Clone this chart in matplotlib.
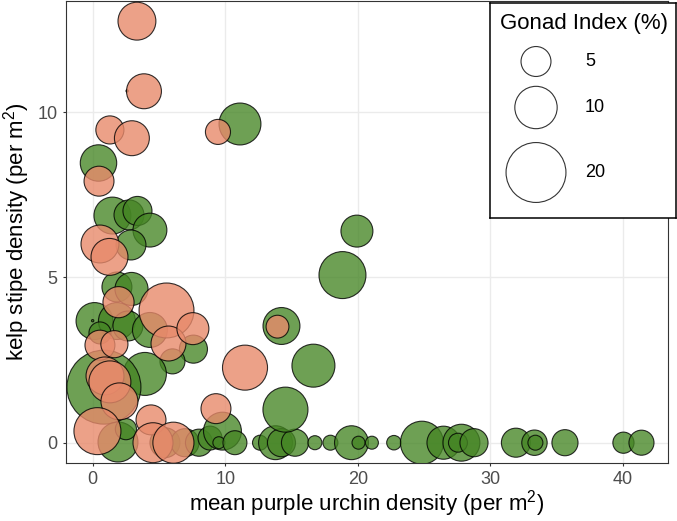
import numpy as np
import matplotlib.pyplot as plt

plt.rcParams['font.family'] = ['Liberation Sans', 'DejaVu Sans']
plt.rcParams['mathtext.fontset'] = 'custom'
plt.rcParams['mathtext.rm'] = 'Liberation Sans'

# green sites (urchin density, kelp density, gonad index)
green_urchin = [11.11, 0.44, 1.49, 2.74, 3.38, 4.32, 2.89, 1.83, 2.93, 0.14, 1.83, 2.66,
                0.55, 4.32, 7.60, 6.02, 3.94, 0.85, 1.91, 2.51, 5.45, 6.96, 8.02, 8.85,
                9.79, 9.52, 10.73, 12.62, 13.79, 14.24, 15.26, 16.76, 17.93, 19.52, 20.05,
                21.06, 22.72, 24.83, 26.46, 27.81, 27.55, 28.76, 31.92, 33.32, 33.39, 35.62,
                40.03, 41.39, 14.54, 16.65, 14.24, 19.93, 18.84, 0.0, 2.6]
green_kelp = [9.64, 8.46, 6.87, 6.89, 7.01, 6.43, 5.98, 4.71, 4.65, 3.68, 3.68, 3.53,
              3.32, 3.41, 2.83, 2.46, 2.08, 1.68, 0.02, 0.41, 0.0, 0.0, 0.0, 0.14,
              0.35, 0.0, 0.0, 0.0, 0.0, 0.0, 0.0, 0.0, 0.0, 0.0, 0.0,
              0.0, 0.0, 0.0, 0.0, 0.0, 0.0, 0.0, 0.0, 0.0, 0.0, 0.0,
              0.0, 0.0, 1.0, 2.33, 3.53, 6.40, 5.07, 3.69, 10.64]
green_gonad = [9.8, 7.4, 7.6, 5.0, 4.7, 6.4, 5.0, 5.0, 6.1, 7.6, 7.6, 5.0,
               2.7, 6.8, 4.4, 3.5, 10.3, 30.5, 8.9, 2.5, 5.0, 4.4, 4.1, 3.2,
               8.0, 0.8, 3.2, 1.25, 6.4, 4.4, 4.1, 1.1, 1.25, 6.4, 0.94,
               0.94, 1.17, 10.3, 6.1, 7.6, 2.0, 4.4, 4.7, 3.6, 1.25, 3.8,
               2.5, 3.5, 11.3, 10.3, 7.6, 5.7, 12.3, 0.03, 0.03]

# salmon sites
salmon_urchin = [3.34, 3.87, 1.30, 2.96, 9.45, 0.48, 0.55, 1.27, 1.95, 5.57, 0.55, 1.64,
                 5.72, 7.56, 0.93, 1.30, 2.02, 0.36, 4.40, 4.55, 6.09, 9.30, 11.49, 13.94]
salmon_kelp = [12.75, 10.63, 9.46, 9.21, 9.40, 7.91, 6.01, 5.62, 4.25, 4.00, 2.95, 2.98,
               3.00, 3.45, 2.02, 1.84, 1.25, 0.35, 0.69, 0.0, 0.0, 1.03, 2.27, 3.51]
salmon_gonad = [8.0, 6.8, 4.4, 6.8, 3.5, 5.0, 8.0, 7.6, 5.4, 16.8, 5.0, 4.1,
                6.8, 5.7, 8.0, 9.8, 7.6, 12.3, 5.0, 8.9, 9.4, 5.0, 11.3, 2.9]

legend_values = [5, 10, 20]

size_scale = 93.0  # points^2 per gonad index unit

fig = plt.figure(figsize=(6.77, 5.21), dpi=100)
ax = fig.add_axes([66 / 677, 58 / 521, 602 / 677, 462 / 521])

ax.scatter(green_urchin, green_kelp, s=np.array(green_gonad) * size_scale,
           facecolor=(0.27, 0.52, 0.14, 0.78), edgecolor=(0, 0, 0, 0.8),
           linewidth=0.8, zorder=3)
ax.scatter(salmon_urchin, salmon_kelp, s=np.array(salmon_gonad) * size_scale,
           facecolor=(0.91, 0.54, 0.42, 0.8), edgecolor=(0, 0, 0, 0.8),
           linewidth=0.8, zorder=4)

ax.set_xlim(-2.01, 43.39)
ax.set_ylim(-0.614, 13.36)
ax.set_xticks([0, 10, 20, 30, 40])
ax.set_yticks([0, 5, 10])
ax.grid(True, color='#ebebeb', linewidth=1.0, zorder=0)
ax.set_axisbelow(True)
for sp in ax.spines.values():
    sp.set_color('#333333')
    sp.set_linewidth(0.8)
ax.tick_params(length=2.5, width=0.8, color='#333333', labelcolor='#4d4d4d',
               labelsize=13, pad=3.5)
ax.set_xlabel('mean purple urchin density (per m$^2$)', fontsize=16, labelpad=-0.5)
ax.set_ylabel('kelp stipe density (per m$^2$)', fontsize=16, labelpad=4)

# legend box
lax = fig.add_axes([490 / 677, (521 - 218) / 521, 186 / 677, 215 / 521])
lax.set_xlim(0, 186)
lax.set_ylim(215, 0)
lax.set_xticks([])
lax.set_yticks([])
for sp in lax.spines.values():
    sp.set_color('black')
    sp.set_linewidth(1.1)
lax.text(94, 20, 'Gonad Index (%)', fontsize=16, ha='center', va='center')
ypos = [58.5, 104.5, 169.5]
for v, yy in zip(legend_values, ypos):
    lax.scatter([46], [yy], s=v * size_scale, facecolor='none',
                edgecolor='#333333', linewidth=0.8)
    lax.text(95, yy, str(v), fontsize=13, ha='left', va='center')

fig.savefig('out.png', dpi=100)
